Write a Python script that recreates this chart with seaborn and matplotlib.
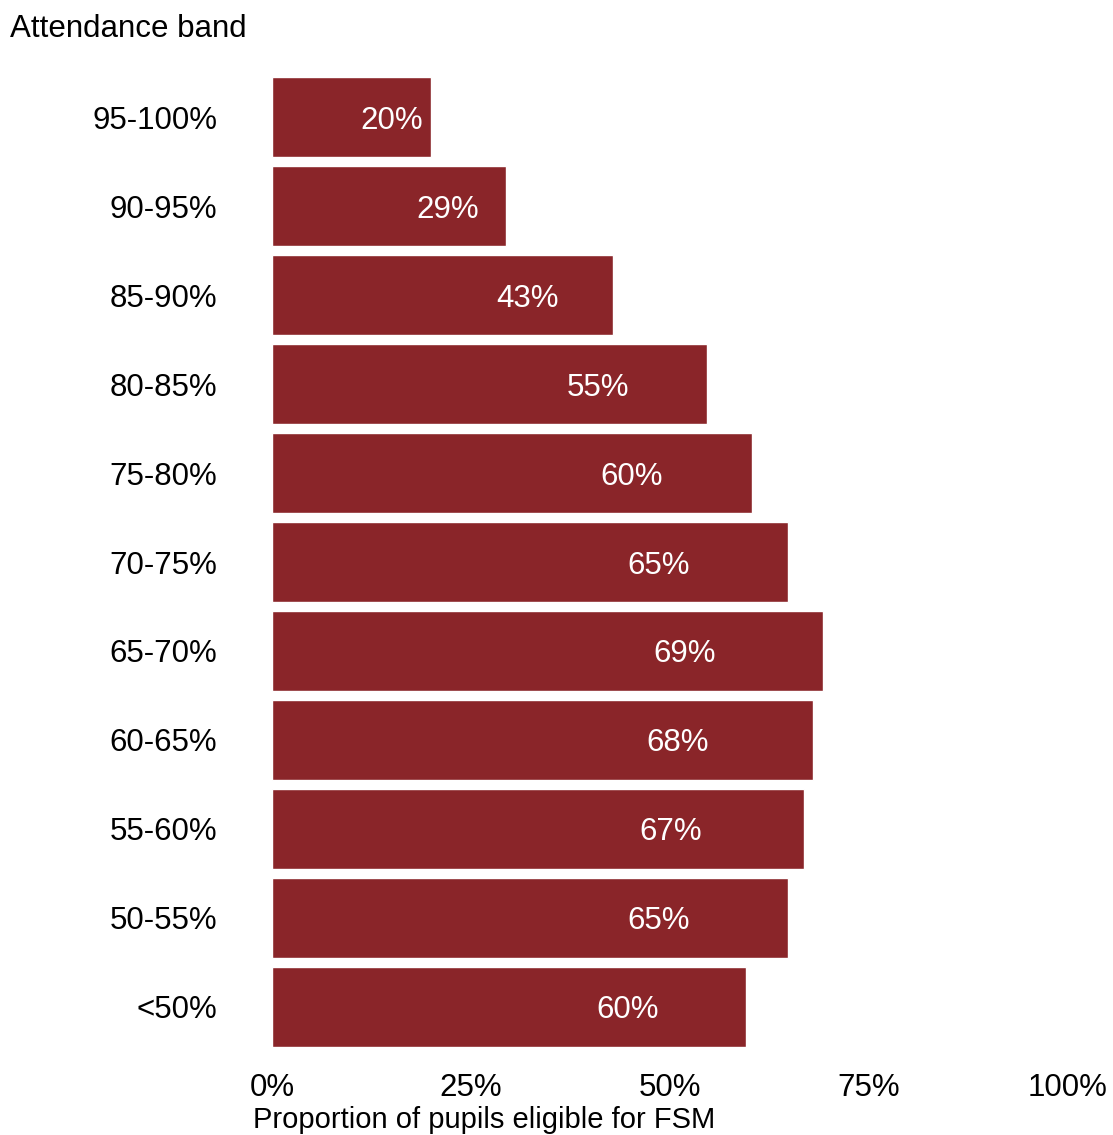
import matplotlib
matplotlib.use("Agg")
import matplotlib.pyplot as plt
import seaborn as sns
import pandas as pd

# Attendance bands (top to bottom) and share of pupils eligible for FSM (%)
bands = ["95-100%", "90-95%", "85-90%", "80-85%", "75-80%", "70-75%",
         "65-70%", "60-65%", "55-60%", "50-55%", "<50%"]
fsm_share = [20.0, 29.4, 42.8, 54.6, 60.3, 64.8, 69.2, 68.0, 66.8, 64.8, 59.6]
x_ticks = [0, 25, 50, 75, 100]
x_tick_labels = ["0%", "25%", "50%", "75%", "100%"]

BAR_COLOR = "#8A2529"
FONT_SIZE = 22.5

sns.set_theme(style="white")
plt.rcParams["font.family"] = ["Liberation Sans", "DejaVu Sans"]
plt.rcParams["text.color"] = "black"
plt.rcParams["xtick.color"] = "black"
plt.rcParams["ytick.color"] = "black"

df = pd.DataFrame({"band": bands, "share": fsm_share})

W, H = 1113, 1135
fig = plt.figure(figsize=(W / 100, H / 100), dpi=100)
ax = fig.add_axes([272 / W, (H - 1047) / H, (1068 - 272) / W, (1047 - 77) / H])

sns.barplot(data=df, x="share", y="band", order=bands, color=BAR_COLOR,
            saturation=1, width=0.9, orient="h", ax=ax)

# value labels sit inside each bar at three quarters of its length
for i, v in enumerate(fsm_share):
    ax.text(v * 0.75, i, f"{v:.0f}%", color="white", ha="center",
            va="center_baseline", fontsize=FONT_SIZE)

ax.set_xlim(0, 100)
ax.set_ylim(len(bands) - 0.55, -0.45)
ax.set_xticks(x_ticks)
ax.set_xticklabels(x_tick_labels, fontsize=FONT_SIZE, color="black")
ax.tick_params(axis="x", length=0, pad=18.5, labelcolor="black")
ax.tick_params(axis="y", length=0, pad=39.6, labelsize=FONT_SIZE,
               labelcolor="black")
ax.set_xlabel("")
ax.set_ylabel("")
for s in ax.spines.values():
    s.set_visible(False)

fig.text(10 / W, 1 - 37 / H, "Attendance band", fontsize=FONT_SIZE,
         color="black", ha="left", va="baseline")
fig.text(253 / W, 1 - 1128 / H, "Proportion of pupils eligible for FSM",
         fontsize=21, color="black", ha="left", va="baseline")

fig.savefig("out.png", dpi=100, facecolor="white")
